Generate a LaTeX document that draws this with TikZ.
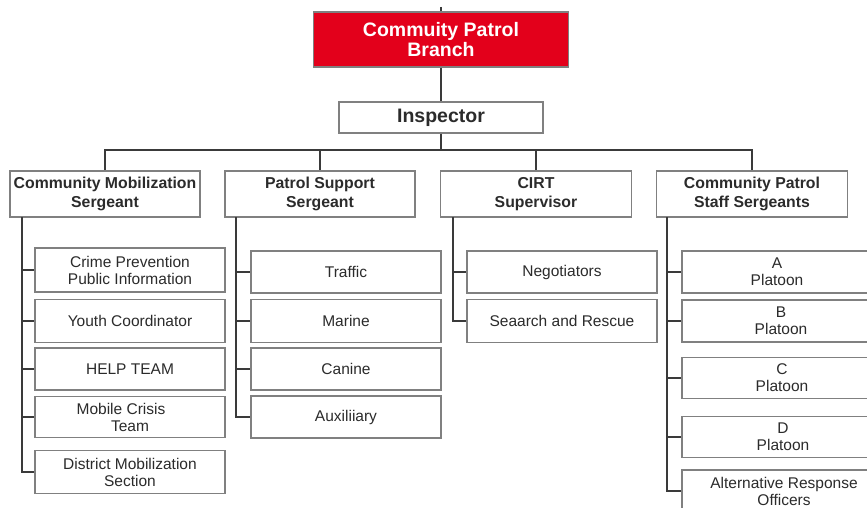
\documentclass[tikz,border=0pt]{standalone}
\usepackage{fontspec}
\setmainfont{Liberation Sans}
\definecolor{boxline}{HTML}{808080}
\definecolor{conn}{HTML}{3A3A3A}
\definecolor{txt}{HTML}{2B2B2B}
\definecolor{branchred}{HTML}{E3001B}
\tikzset{
  box/.style={draw=boxline, line width=1.3pt, rectangle, inner sep=0pt, align=center, text=txt, fill=white},
  lvltwo/.style={box, minimum height=46pt, font=\fontsize{15.8}{19}\selectfont\bfseries},
  child/.style={box, minimum width=190pt, font=\fontsize{15.5}{17}\selectfont},
  link/.style={draw=conn, line width=1.8pt},
}
\begin{document}
\begin{tikzpicture}[x=1pt, y=-1pt]
\useasboundingbox (0,0) rectangle (867,508);
\clip (0,0) rectangle (867,508);
% top
\coordinate (top) at (441,7);
\node[box, fill=branchred, text=white, minimum width=255pt, minimum height=55pt,
      font=\fontsize{19.5}{20}\selectfont\bfseries] (branch) at (441,39.5) {Commuity Patrol\\Branch};
\node[box, minimum width=204pt, minimum height=31pt, font=\fontsize{19.5}{20}\selectfont\bfseries] (insp) at (441,117.5) {Inspector};
\coordinate (bus) at (441,150);
% level two
\node[lvltwo, minimum width=190pt] (cms) at (105,194) {Community Mobilization\\Sergeant};
\node[lvltwo, minimum width=190pt] (pss) at (320,194) {Patrol Support\\Sergeant};
\node[lvltwo, minimum width=191pt] (cirt) at (536,194) {CIRT\\Supervisor};
\node[lvltwo, minimum width=191pt] (cpss) at (752,194) {Community Patrol\\Staff Sergeants};
% children of CMS
\node[child, minimum height=44pt] (c11) at (130,270) {Crime Prevention\\Public Information};
\node[child, minimum height=43pt] (c12) at (130,321) {Youth Coordinator};
\node[child, minimum height=42pt] (c13) at (130,369) {HELP TEAM};
\node[child, minimum height=41pt] (c14) at (130,417) {Mobile Crisis\hspace*{18pt}\\Team};
\node[child, minimum height=43pt] (c15) at (130,472) {District Mobilization\\Section};
% children of PSS
\node[child, minimum height=42pt] (c21) at (346,272) {Traffic};
\node[child, minimum height=43pt] (c22) at (346,321) {Marine};
\node[child, minimum height=42pt] (c23) at (346,369) {Canine};
\node[child, minimum height=42pt] (c24) at (346,417) {Auxiliiary};
% children of CIRT
\node[child, minimum height=42pt] (c31) at (562,272) {Negotiators};
\node[child, minimum height=43pt] (c32) at (562,321) {Seaarch and Rescue};
% children of CPSS
\node[child, minimum height=42pt] (c41) at (777,272) {A\\Platoon};
\node[child, minimum height=42pt] (c42) at (777,321) {\hspace*{8pt}B\\\hspace*{8pt}Platoon};
\node[child, minimum height=41pt] (c43) at (777,378) {\hspace*{10pt}C\\\hspace*{10pt}Platoon};
\node[child, minimum height=41pt] (c44) at (777,437) {\hspace*{12pt}D\\\hspace*{12pt}Platoon};
\node[child, minimum height=42pt] (c45) at (777,491) {\hspace*{14pt}Alternative Response\\\hspace*{14pt}Officers};
% trunk starts
\coordinate (t1) at (22,217);
\coordinate (t2) at (236,217);
\coordinate (t3) at (453,217);
\coordinate (t4) at (667,217);
% connectors
\path[link] (top) -- (branch.north);
\path[link] (branch.south) -- (insp.north);
\path[link] (insp.south) -- (bus);
\path[link] (bus) -| (cms.north);
\path[link] (bus) -| (pss.north);
\path[link] (bus) -| (cirt.north);
\path[link] (bus) -| (cpss.north);
\foreach \c in {c11,c12,c13,c14,c15} \path[link] (t1) |- (\c.west);
\foreach \c in {c21,c22,c23,c24} \path[link] (t2) |- (\c.west);
\foreach \c in {c31,c32} \path[link] (t3) |- (\c.west);
\foreach \c in {c41,c42,c43,c44,c45} \path[link] (t4) |- (\c.west);
\end{tikzpicture}
\end{document}
